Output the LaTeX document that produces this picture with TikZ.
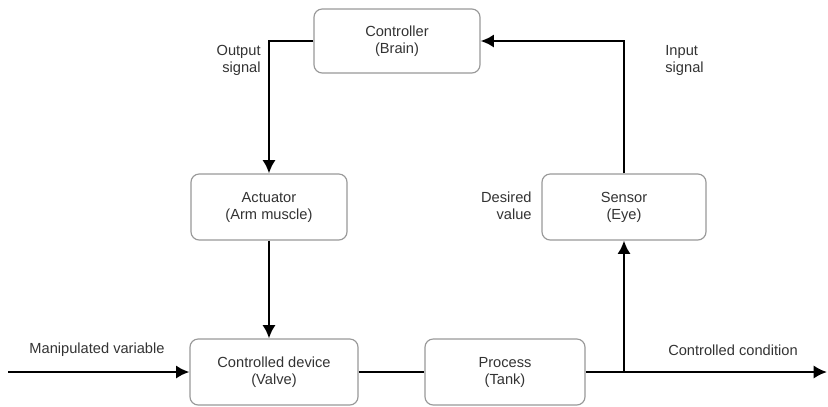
\documentclass[tikz,border=0pt]{standalone}
\usepackage{fontspec}
\setmainfont{Liberation Sans}
\usetikzlibrary{arrows.meta}

\begin{document}
\begin{tikzpicture}[x=0.03cm, y=-0.03cm, font=\fontsize{12.5}{14.5}\selectfont,
	block/.style={draw=gray!80, line width=1pt, rounded corners=7pt, fill=white, align=center, text=black!80, inner sep=0pt},
	lbl/.style={text=black!80, align=center, inner sep=1pt},
	flow/.style={line width=2.2pt, -{Latex[length=4mm, width=4mm]}},
	plain/.style={line width=2.2pt}]
	\useasboundingbox (0,0) rectangle (828,406);
	% blocks
	\node[block, minimum width=4.98cm, minimum height=1.92cm] (ctl) at (397,41) {Controller\\(Brain)};
	\node[block, minimum width=4.68cm, minimum height=1.98cm] (act) at (269,207) {Actuator\\(Arm muscle)};
	\node[block, minimum width=4.92cm, minimum height=1.98cm] (sen) at (624,207) {Sensor\\(Eye)};
	\node[block, minimum width=5.04cm, minimum height=1.98cm] (dev) at (274,372) {Controlled device\\(Valve)};
	\node[block, minimum width=4.8cm, minimum height=1.98cm] (proc) at (505,372) {Process\\(Tank)};
	% free ends
	\coordinate (in) at (8,372);
	\coordinate (out) at (827,372);
	\coordinate (tap) at (sen |- proc);
	% connectors
	\draw[flow] (in) -- (dev);
	\draw[plain] (dev) -- (proc);
	\draw[flow] (proc) -- (out);
	\draw[flow] (tap) -- (sen.south);
	\draw[flow] (sen.north) |- (ctl.east);
	\draw[flow] (ctl.west) -| (act.north);
	\draw[flow] (act.south) -- (act.south |- dev.north);
	% labels
	\node[lbl, anchor=east, align=right] (outsig) at (262,60) {Output\\signal};
	\node[lbl, anchor=west, align=left] (insig) at (664,60) {Input\\signal};
	\node[lbl, anchor=east, align=right] (desired) at (533,206) {Desired\\value};
	\node[lbl] (manip) at (97,350) {Manipulated variable};
	\node[lbl] (cond) at (733,350) {Controlled condition};
\end{tikzpicture}
\end{document}
